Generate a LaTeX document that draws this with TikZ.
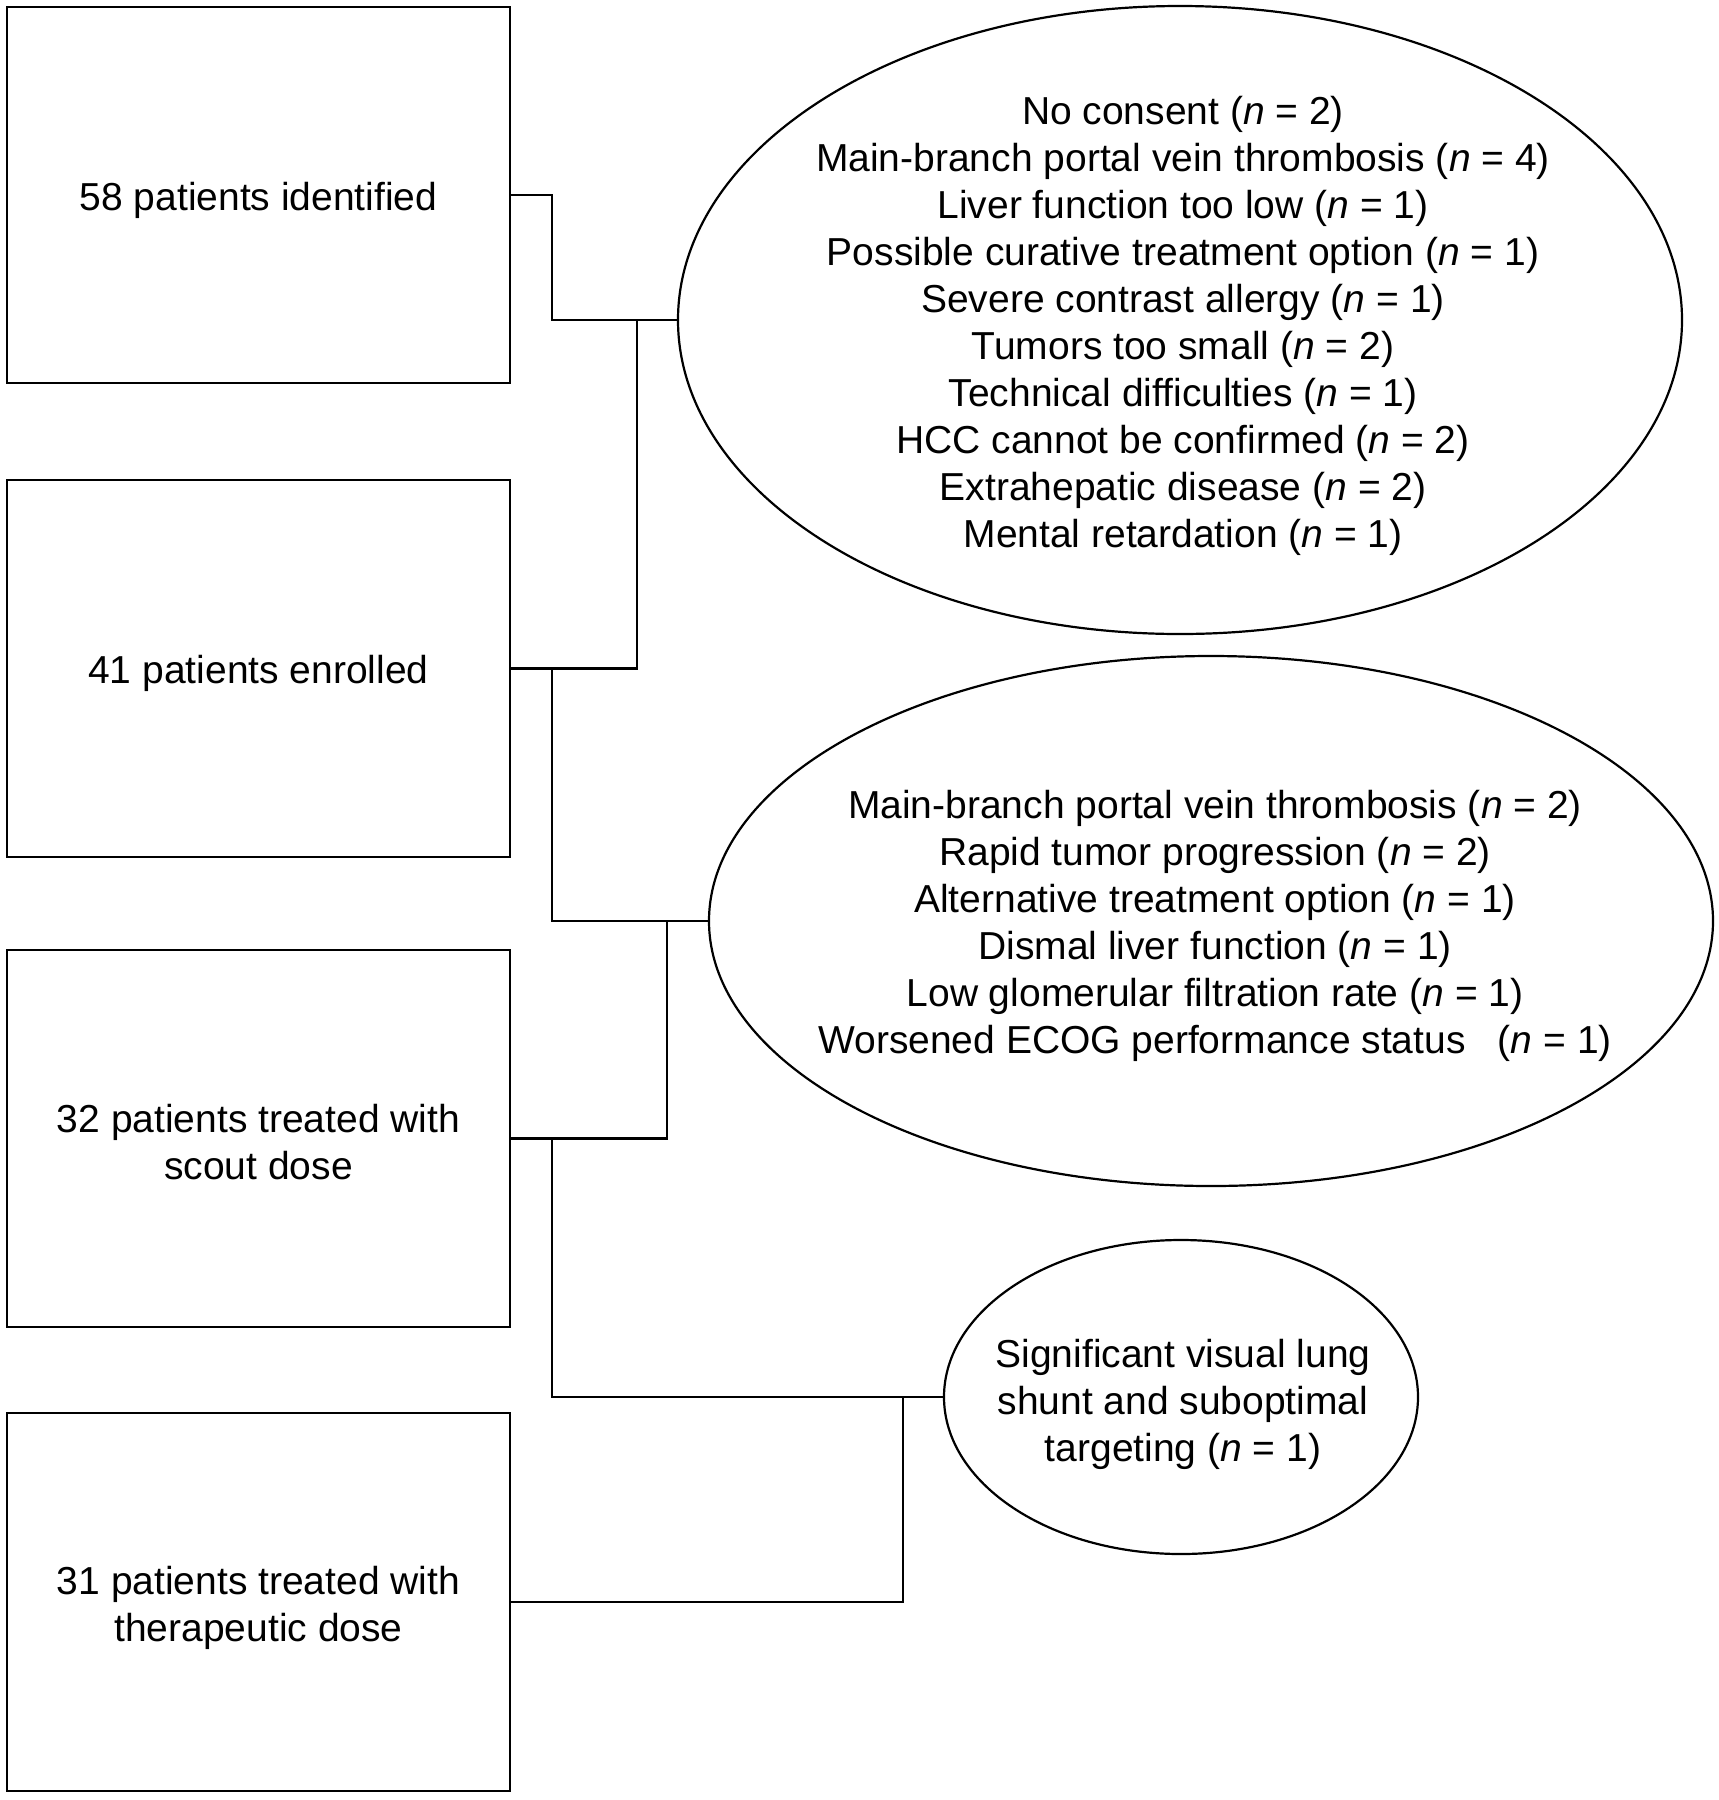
\documentclass[tikz,border=0pt]{standalone}
\usepackage{fontspec}
\setmainfont{Liberation Sans}
\usetikzlibrary{shapes.geometric}
\begin{document}
\begin{tikzpicture}[x=1pt,y=-1pt,
  every node/.style={font=\fontsize{39}{47}\selectfont},
  box/.style={draw=black, line width=2.5pt, rectangle, inner sep=0pt, minimum width=503pt},
  oval/.style={draw=black, line width=2.2pt, ellipse, inner sep=0pt},
  txt/.style={align=center, inner sep=0pt},
  link/.style={draw=black, line width=2.5pt}]
\useasboundingbox (0,0) rectangle (1719,1800);
\fill[white] (0,0) rectangle (1719,1800);
% boxes
\node[box, minimum height=376pt] (b1) at (258.5,195) {};
\node[box, minimum height=377pt] (b2) at (258.5,668.5) {};
\node[box, minimum height=377pt] (b3) at (258.5,1138.5) {};
\node[box, minimum height=378pt] (b4) at (258.5,1602) {};
\node[txt] (bt1) at ([yshift=-5pt]b1.center) {58 patients identified};
\node[txt] (bt2) at ([yshift=-5pt]b2.center) {41 patients enrolled};
\node[txt] (bt3) at ([yshift=-4pt]b3.center) {32 patients treated with\\scout dose};
\node[txt] (bt4) at ([yshift=-6pt]b4.center) {31 patients treated with\\therapeutic dose};
% ellipses
\node[oval, minimum width=1004pt, minimum height=628pt] (e1) at (1180,320) {};
\node[txt] (t1) at ([xshift=3pt,yshift=-6pt]e1.center) {No consent (\textit{n} = 2)\\
Main-branch portal vein thrombosis (\textit{n} = 4)\\
Liver function too low (\textit{n} = 1)\\
Possible curative treatment option (\textit{n} = 1)\\
Severe contrast allergy (\textit{n} = 1)\\
Tumors too small (\textit{n} = 2)\\
Technical difficulties (\textit{n} = 1)\\
HCC cannot be confirmed (\textit{n} = 2)\\
Extrahepatic disease (\textit{n} = 2)\\
Mental retardation (\textit{n} = 1)};
\node[oval, minimum width=1004pt, minimum height=530pt] (e2) at (1211,921) {};
\node[txt] (t2) at ([xshift=4pt,yshift=-5pt]e2.center) {Main-branch portal vein thrombosis (\textit{n} = 2)\\
Rapid tumor progression (\textit{n} = 2)\\
Alternative treatment option (\textit{n} = 1)\\
Dismal liver function (\textit{n} = 1)\\
Low glomerular filtration rate (\textit{n} = 1)\\
Worsened ECOG performance status\hspace{0.55em} (\textit{n} = 1)};
\node[oval, minimum width=474pt, minimum height=314pt] (e3) at (1181,1397) {};
\node[txt] (t3) at ([xshift=2pt,yshift=-7pt]e3.center) {Significant visual lung\\shunt and suboptimal\\targeting (\textit{n} = 1)};
% junctions
\coordinate (j1) at (552,320);
\coordinate (j2) at (637,320);
\coordinate (j3) at (552,921);
\coordinate (j4) at (667,921);
\coordinate (j5) at (552,1397);
\coordinate (j6) at (903,1397);
% connectors
\draw[link] (b1.east) -| (j1) -- (e1.west);
\draw[link] (b2.east) -| (j2);
\draw[link] (b2.east) -| (j3) -- (e2.west);
\draw[link] (b3.east) -| (j4);
\draw[link] (b3.east) -| (j5) -- (e3.west);
\draw[link] (b4.east) -| (j6);
\end{tikzpicture}
\end{document}
